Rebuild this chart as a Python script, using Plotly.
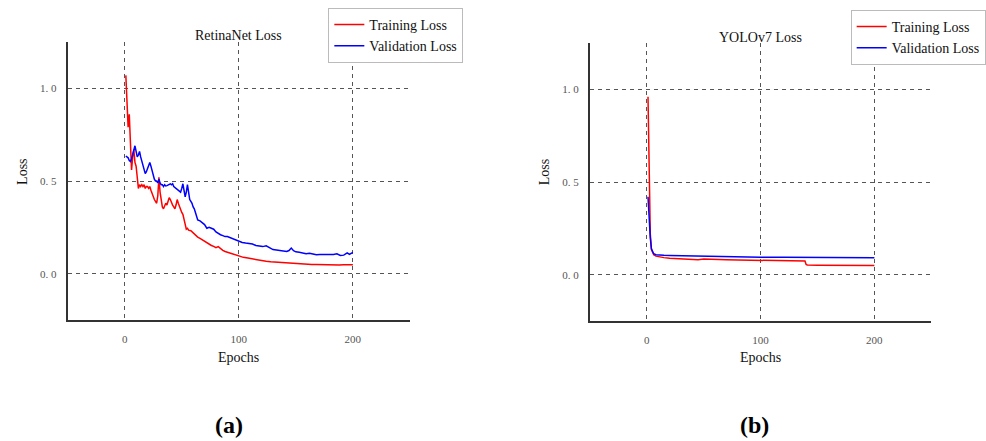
import plotly.graph_objects as go

# ---------------- data ----------------
ret_train_epochs = [1,2,3,4,5,6,7,8,9,10,11,12,13,14,15,16,17,18,19,20,21,22,23,24,25,26,27,28,29,30,
                    31,32,33,34,35,36,37,38,39,40,41,42,43,44,45,46,47,48,49,50,51,52,53,54,55,56,58,60,
                    62,64,66,68,70,72,74,76,78,80,82,84,86,88,90,92,94,96,98,100,104,108,112,116,120,124,
                    128,132,136,140,144,148,152,156,160,164,168,172,176,180,184,188,192,196,200]
ret_train_loss = [1.07,0.93,0.79,0.86,0.72,0.56,0.63,0.67,0.60,0.58,0.52,0.46,0.48,0.47,0.48,0.47,0.48,0.46,0.47,0.47,
                  0.46,0.47,0.45,0.43,0.41,0.40,0.39,0.38,0.42,0.52,0.44,0.40,0.36,0.35,0.37,0.38,0.37,0.39,0.41,0.40,
                  0.38,0.37,0.36,0.35,0.37,0.40,0.38,0.36,0.35,0.33,0.32,0.29,0.26,0.24,0.245,0.235,0.232,0.22,
                  0.208,0.197,0.19,0.182,0.172,0.166,0.16,0.152,0.147,0.14,0.146,0.134,0.126,0.12,0.116,0.11,0.106,0.10,
                  0.097,0.092,0.088,0.084,0.079,0.075,0.07,0.067,0.064,0.062,0.06,0.058,0.057,0.055,0.053,0.053,0.051,
                  0.050,0.050,0.049,0.048,0.048,0.049,0.047,0.048,0.047,0.048]

ret_val_epochs = [1,2,3,4,5,6,7,8,9,10,11,12,13,14,15,16,17,18,19,20,21,22,23,24,25,26,27,28,29,30,
                  31,32,33,34,35,36,37,38,39,40,41,42,43,44,45,46,47,48,49,50,51,52,53,54,55,56,57,58,59,60,
                  61,62,63,64,66,68,70,72,74,76,78,80,82,84,86,88,90,92,94,96,98,100,103,106,109,112,115,118,
                  121,124,127,130,133,136,139,142,144,146,148,150,153,156,159,162,165,168,171,174,177,180,183,
                  186,189,192,195,197,200]
ret_val_loss = [0.635,0.63,0.625,0.61,0.605,0.62,0.65,0.67,0.69,0.66,0.63,0.64,0.66,0.63,0.61,0.59,0.56,0.54,0.55,0.57,
                0.59,0.60,0.58,0.55,0.53,0.51,0.50,0.50,0.49,0.51,0.49,0.48,0.48,0.47,0.48,0.473,0.475,0.48,0.48,0.485,
                0.48,0.485,0.47,0.465,0.46,0.46,0.45,0.445,0.44,0.46,0.485,0.45,0.415,0.44,0.48,0.44,0.40,0.39,0.38,0.36,
                0.35,0.33,0.31,0.29,0.285,0.275,0.265,0.245,0.25,0.245,0.24,0.225,0.215,0.21,0.205,0.20,0.20,0.195,
                0.19,0.185,0.18,0.175,0.168,0.165,0.162,0.16,0.152,0.147,0.146,0.15,0.138,0.13,0.128,0.124,0.122,
                0.12,0.125,0.138,0.124,0.118,0.115,0.112,0.108,0.11,0.105,0.102,0.103,0.102,0.101,0.103,0.104,
                0.107,0.098,0.10,0.112,0.104,0.115]

yolo_train_epochs = [1,2,3,4,5,6,8,10,15,20,30,40,45,50,55,60,70,80,90,100,110,120,130,138,139,140,141,150,160,170,180,190,200]
yolo_train_loss = [0.96,0.55,0.22,0.135,0.115,0.107,0.10,0.097,0.092,0.088,0.085,0.082,0.080,0.084,0.082,0.081,0.080,
                   0.079,0.078,0.077,0.076,0.076,0.075,0.076,0.074,0.055,0.052,0.051,0.051,0.050,0.050,0.050,0.049]

yolo_val_epochs = [1,2,3,4,5,6,8,10,15,20,30,40,50,60,70,80,90,100,120,140,160,180,200]
yolo_val_loss = [0.42,0.30,0.20,0.14,0.12,0.113,0.108,0.106,0.105,0.104,0.103,0.102,0.100,0.097,0.095,0.095,
                 0.094,0.094,0.094,0.093,0.093,0.092,0.091]

x_tick_vals = [0, 100, 200]
x_tick_text = ["0", "100", "200"]
y_tick_vals = [0.0, 0.5, 1.0]
y_tick_text = ["0. 0", "0. 5", "1. 0"]

panel_titles = ["RetinaNet Loss", "YOLOv7 Loss"]
panel_labels = ["(a)", "(b)"]
series_names = ["Training Loss", "Validation Loss"]

# ---------------- figure ----------------
W, H = 986, 441
SERIF = "Liberation Serif, Times New Roman, serif"
RED, BLUE = "#ff0000", "#0000ff"

def px(x):
    return x / W

def py(y):
    return 1 - y / H

fig = go.Figure()

fig.add_trace(go.Scatter(x=ret_train_epochs, y=ret_train_loss, mode="lines", name=series_names[0],
                         line=dict(color=RED, width=1.5), xaxis="x", yaxis="y", legend="legend"))
fig.add_trace(go.Scatter(x=ret_val_epochs, y=ret_val_loss, mode="lines", name=series_names[1],
                         line=dict(color=BLUE, width=1.5), xaxis="x", yaxis="y", legend="legend"))
fig.add_trace(go.Scatter(x=yolo_train_epochs, y=yolo_train_loss, mode="lines", name=series_names[0],
                         line=dict(color=RED, width=1.5), xaxis="x2", yaxis="y2", legend="legend2"))
fig.add_trace(go.Scatter(x=yolo_val_epochs, y=yolo_val_loss, mode="lines", name=series_names[1],
                         line=dict(color=BLUE, width=1.5), xaxis="x2", yaxis="y2", legend="legend2"))

axis_common = dict(
    showline=True, linecolor="#333333", linewidth=2, mirror=False,
    showgrid=True, gridcolor="#555555", gridwidth=1, griddash="4px,4px",
    zeroline=False, ticks="outside", tickcolor="rgba(0,0,0,0)",
    tickfont=dict(family=SERIF, size=11, color="#555555"),
)

legend_common = dict(xanchor="left", yanchor="top", bordercolor="#bbbbbb", borderwidth=1,
                     bgcolor="white", font=dict(family=SERIF, size=14, color="#111111"),
                     tracegroupgap=0, itemwidth=30)

fig.update_layout(
    width=W, height=H,
    margin=dict(l=0, r=0, t=0, b=0),
    paper_bgcolor="white", plot_bgcolor="white",
    font=dict(family=SERIF, color="#222222"),
    xaxis=dict(domain=[px(68), px(412)], range=[-50, 250], anchor="y",
               tickvals=x_tick_vals, ticktext=x_tick_text, ticklen=8, **axis_common),
    yaxis=dict(domain=[py(320), py(42)], range=[-0.25, 1.25], anchor="x",
               tickvals=y_tick_vals, ticktext=y_tick_text, ticklen=7, **axis_common),
    xaxis2=dict(domain=[px(593), px(936)], range=[-50, 250], anchor="y2",
                tickvals=x_tick_vals, ticktext=x_tick_text, ticklen=8, **axis_common),
    yaxis2=dict(domain=[py(321), py(43)], range=[-0.25, 1.25], anchor="x2",
                tickvals=y_tick_vals, ticktext=y_tick_text, ticklen=7, **axis_common),
    legend=dict(x=px(330), y=py(8), **legend_common),
    legend2=dict(x=px(855), y=py(10), **legend_common),
    showlegend=True,
)

anns = []
for cx, ty, title in [(240, 36, panel_titles[0]), (764, 37, panel_titles[1])]:
    anns.append(dict(x=px(cx), y=py(ty), xref="paper", yref="paper", text=title, showarrow=False,
                     xanchor="center", yanchor="middle", font=dict(family=SERIF, size=14, color="#111111")))
for cx in [240, 764]:
    anns.append(dict(x=px(cx), y=py(357), xref="paper", yref="paper", text="Epochs", showarrow=False,
                     xanchor="center", yanchor="middle", font=dict(family=SERIF, size=14, color="#111111")))
for lx in [22, 547]:
    anns.append(dict(x=px(lx), y=py(172), xref="paper", yref="paper", text="Loss", showarrow=False,
                     textangle=-90, xanchor="center", yanchor="middle",
                     font=dict(family=SERIF, size=14, color="#111111")))
for cx, lab in [(230, panel_labels[0]), (758, panel_labels[1])]:
    anns.append(dict(x=px(cx), y=py(425), xref="paper", yref="paper", text="<b>" + lab + "</b>",
                     showarrow=False, xanchor="center", yanchor="middle",
                     font=dict(family=SERIF, size=24, color="#000000")))
fig.update_layout(annotations=anns)

fig.write_html("out.html")
